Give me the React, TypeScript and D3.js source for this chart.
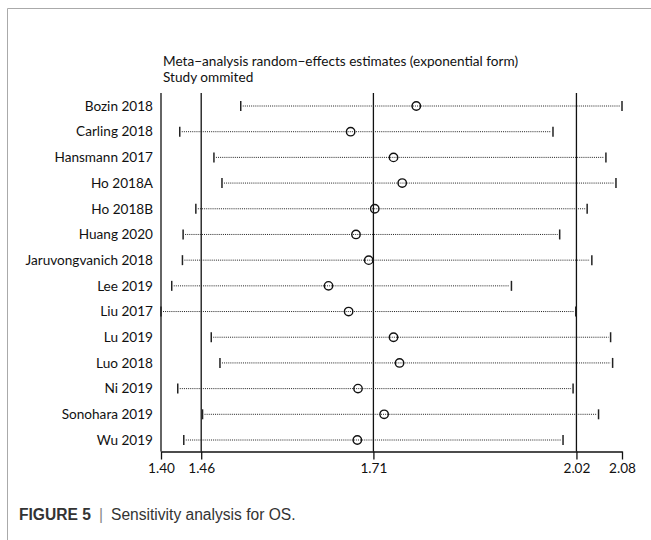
import React, { useRef, useEffect } from "react";
import * as d3 from "d3";

// studies omitted one at a time, with pooled estimate and 95% CI (exp form)
const studies = [
  "Bozin 2018",
  "Carling 2018",
  "Hansmann 2017",
  "Ho 2018A",
  "Ho 2018B",
  "Huang 2020",
  "Jaruvongvanich 2018",
  "Lee 2019",
  "Liu 2017",
  "Lu 2019",
  "Luo 2018",
  "Ni 2019",
  "Sonohara 2019",
  "Wu 2019",
];
const estimates = [1.777, 1.679, 1.743, 1.756, 1.715, 1.687, 1.706, 1.646, 1.676, 1.743, 1.752, 1.690, 1.729, 1.689];
const lowers = [1.515, 1.424, 1.475, 1.487, 1.448, 1.429, 1.428, 1.412, 1.396, 1.471, 1.484, 1.421, 1.458, 1.430];
const uppers = [2.084, 1.981, 2.060, 2.075, 2.032, 1.991, 2.039, 1.919, 2.015, 2.067, 2.070, 2.011, 2.049, 1.996];

// overall estimate and CI drawn as reference lines
const refLines = [1.456, 1.713, 2.016];
const tickValues = [1.396, 1.456, 1.713, 2.016, 2.084];
const tickLabels = ["1.40", "1.46", "1.71", "2.02", "2.08"];

const titleLines = ["Meta\u2212analysis random\u2212effects estimates (exponential form)", "Study ommited"];

const W = 651;
const H = 540;
const FONT = "Lato, 'Open Sans', sans-serif";

const SensitivityPlot = () => {
  const ref = useRef<SVGSVGElement>(null);

  useEffect(() => {
    if (!ref.current) return;
    const svg = d3.select(ref.current);
    svg.selectAll("*").remove();

    const rows = studies.map((s, i) => ({ study: s, est: estimates[i], lo: lowers[i], hi: uppers[i] }));

    const x = d3.scaleLinear()
      .domain([d3.min(lowers) as number, d3.max(uppers) as number])
      .range([161, 622]);
    const y = d3.scalePoint()
      .domain(studies)
      .range([106, 440]);

    const plotTop = 93;
    const axisY = 451.5;

    // figure frame
    svg.append("path")
      .attr("d", `M7.5,${H} L7.5,8.5 L${W},8.5`)
      .attr("fill", "none")
      .attr("stroke", "#aaa")
      .attr("stroke-width", 1);

    // titles
    svg.selectAll(".title")
      .data(titleLines)
      .enter().append("text")
      .attr("x", 163)
      .attr("y", (d, i) => 65.5 + i * 16.8)
      .style("font-family", FONT)
      .style("font-size", "13.6px")
      .style("fill", "#111")
      .text((d) => d);

    // left axis line
    svg.append("line")
      .attr("x1", x.range()[0]).attr("x2", x.range()[0])
      .attr("y1", plotTop).attr("y2", axisY)
      .attr("stroke", "#111").attr("stroke-width", 1.3);

    // reference lines
    svg.selectAll(".ref")
      .data(refLines)
      .enter().append("line")
      .attr("x1", (d) => x(d)).attr("x2", (d) => x(d))
      .attr("y1", plotTop).attr("y2", axisY)
      .attr("stroke", "#111").attr("stroke-width", 1.3);

    // CI dotted lines
    svg.selectAll(".ci")
      .data(rows)
      .enter().append("line")
      .attr("x1", (d) => x(d.lo) + 2).attr("x2", (d) => x(d.hi) - 2)
      .attr("y1", (d) => y(d.study) as number).attr("y2", (d) => y(d.study) as number)
      .attr("stroke", "#222").attr("stroke-width", 1)
      .attr("stroke-dasharray", "1,1.1");

    // caps
    const caps = rows.flatMap((d) => [{ v: d.lo, s: d.study }, { v: d.hi, s: d.study }]);
    svg.selectAll(".cap")
      .data(caps)
      .enter().append("line")
      .attr("x1", (d) => x(d.v)).attr("x2", (d) => x(d.v))
      .attr("y1", (d) => (y(d.s) as number) - 5).attr("y2", (d) => (y(d.s) as number) + 5)
      .attr("stroke", "#222").attr("stroke-width", 1.5);

    // point estimates
    svg.selectAll(".pt")
      .data(rows)
      .enter().append("circle")
      .attr("cx", (d) => x(d.est))
      .attr("cy", (d) => y(d.study) as number)
      .attr("r", 4.2)
      .attr("fill", "none")
      .attr("stroke", "#111")
      .attr("stroke-width", 1.4);

    // study labels
    svg.selectAll(".lab")
      .data(studies)
      .enter().append("text")
      .attr("x", 153)
      .attr("y", (d) => y(d) as number)
      .attr("dy", "0.35em")
      .attr("text-anchor", "end")
      .style("font-family", FONT)
      .style("font-size", "13.6px")
      .style("fill", "#111")
      .text((d) => d);

    // bottom axis
    const axis = d3.axisBottom(x)
      .tickValues(tickValues)
      .tickSize(8)
      .tickSizeOuter(0)
      .tickFormat((d, i) => tickLabels[i]);
    const g = svg.append("g")
      .attr("transform", `translate(0,${axisY})`)
      .call(axis);
    g.select(".domain").attr("stroke", "#111").attr("stroke-width", 1.3);
    g.selectAll(".tick line").attr("stroke", "#111").attr("stroke-width", 1.3);
    g.selectAll(".tick text")
      .attr("y", 12)
      .style("font-family", FONT)
      .style("font-size", "13.6px")
      .style("fill", "#111");

    // caption
    const cap = svg.append("text")
      .attr("x", 19)
      .attr("y", 519.5)
      .style("font-family", "'Liberation Sans', Arial, sans-serif")
      .style("font-size", "15.6px")
      .style("fill", "#333");
    cap.append("tspan").style("font-weight", "bold").text("FIGURE 5");
    cap.append("tspan").attr("dx", 8).style("fill", "#888").text("|");
    cap.append("tspan").attr("dx", 8).text("Sensitivity analysis for OS.");
  }, []);

  return <svg ref={ref} width={W} height={H} style={{ display: "block", background: "#fff" }} />;
};

export default function App() {
  return (
    <div style={{ position: "absolute", left: 0, top: 0, width: W, height: H, background: "#fff" }}>
      <SensitivityPlot />
    </div>
  );
}
